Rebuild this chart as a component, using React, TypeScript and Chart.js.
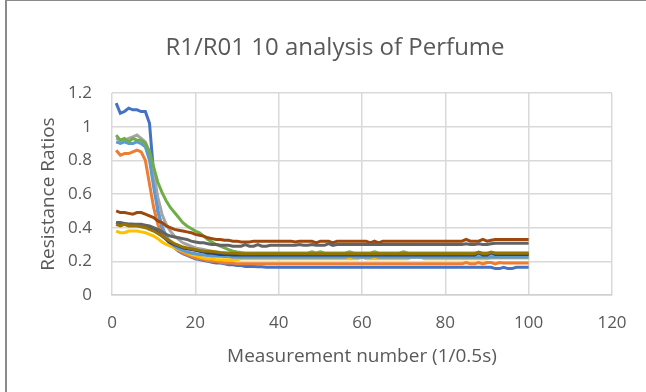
import React, { useEffect, useRef } from "react";
import { Chart, registerables } from "chart.js";

Chart.register(...registerables);

const TITLE = "R1/R01 10 analysis of Perfume";
const X_TITLE = "Measurement number (1/0.5s)";
const Y_TITLE = "Resistance Ratios";

const X_MIN = 0;
const X_MAX = 120;
const X_STEP = 20;
const Y_MIN = 0;
const Y_MAX = 1.2;
const Y_STEP = 0.2;

// Measurement numbers 1..100
const measurement: number[] = [
  1, 2, 3, 4, 5, 6, 7, 8, 9, 10,
  11, 12, 13, 14, 15, 16, 17, 18, 19, 20,
  21, 22, 23, 24, 25, 26, 27, 28, 29, 30,
  31, 32, 33, 34, 35, 36, 37, 38, 39, 40,
  41, 42, 43, 44, 45, 46, 47, 48, 49, 50,
  51, 52, 53, 54, 55, 56, 57, 58, 59, 60,
  61, 62, 63, 64, 65, 66, 67, 68, 69, 70,
  71, 72, 73, 74, 75, 76, 77, 78, 79, 80,
  81, 82, 83, 84, 85, 86, 87, 88, 89, 90,
  91, 92, 93, 94, 95, 96, 97, 98, 99, 100,
];

const s1: number[] = [
  1.14, 1.08, 1.09, 1.11, 1.10, 1.10, 1.09, 1.09, 1.02, 0.72,
  0.50, 0.40, 0.34, 0.30, 0.28, 0.26, 0.245, 0.235, 0.225, 0.215,
  0.21, 0.205, 0.20, 0.195, 0.19, 0.19, 0.185, 0.18, 0.18, 0.175,
  0.175, 0.17, 0.17, 0.17, 0.168, 0.168, 0.165, 0.165, 0.165, 0.165,
  0.165, 0.165, 0.165, 0.165, 0.165, 0.165, 0.165, 0.165, 0.165, 0.165,
  0.165, 0.165, 0.165, 0.165, 0.165, 0.165, 0.165, 0.165, 0.165, 0.165,
  0.165, 0.165, 0.165, 0.165, 0.165, 0.165, 0.165, 0.165, 0.165, 0.165,
  0.165, 0.165, 0.165, 0.165, 0.165, 0.165, 0.165, 0.165, 0.165, 0.165,
  0.165, 0.165, 0.165, 0.165, 0.165, 0.165, 0.165, 0.165, 0.165, 0.165,
  0.165, 0.157, 0.157, 0.165, 0.157, 0.157, 0.165, 0.165, 0.165, 0.165,
];

const s2: number[] = [
  0.86, 0.83, 0.84, 0.84, 0.85, 0.86, 0.85, 0.80, 0.66, 0.52,
  0.42, 0.36, 0.33, 0.30, 0.28, 0.265, 0.25, 0.24, 0.23, 0.22,
  0.215, 0.21, 0.205, 0.20, 0.20, 0.195, 0.19, 0.19, 0.19, 0.185,
  0.185, 0.185, 0.185, 0.185, 0.185, 0.185, 0.185, 0.185, 0.185, 0.185,
  0.185, 0.185, 0.185, 0.185, 0.185, 0.185, 0.185, 0.185, 0.185, 0.185,
  0.185, 0.185, 0.185, 0.185, 0.185, 0.185, 0.185, 0.185, 0.185, 0.185,
  0.185, 0.185, 0.185, 0.185, 0.185, 0.185, 0.185, 0.185, 0.185, 0.185,
  0.185, 0.185, 0.185, 0.185, 0.185, 0.185, 0.185, 0.185, 0.185, 0.185,
  0.185, 0.185, 0.185, 0.185, 0.193, 0.185, 0.185, 0.193, 0.185, 0.193,
  0.193, 0.185, 0.193, 0.19, 0.19, 0.19, 0.19, 0.19, 0.19, 0.19,
];

const s3: number[] = [
  0.93, 0.92, 0.92, 0.93, 0.94, 0.95, 0.93, 0.91, 0.85, 0.72,
  0.58, 0.48, 0.42, 0.38, 0.35, 0.33, 0.31, 0.30, 0.29, 0.28,
  0.275, 0.27, 0.265, 0.26, 0.255, 0.25, 0.25, 0.245, 0.245, 0.24,
  0.24, 0.24, 0.238, 0.238, 0.235, 0.235, 0.235, 0.235, 0.235, 0.235,
  0.235, 0.235, 0.235, 0.235, 0.235, 0.235, 0.235, 0.235, 0.235, 0.235,
  0.235, 0.235, 0.235, 0.235, 0.235, 0.235, 0.235, 0.235, 0.235, 0.235,
  0.235, 0.235, 0.235, 0.235, 0.235, 0.235, 0.235, 0.235, 0.235, 0.235,
  0.235, 0.235, 0.235, 0.235, 0.235, 0.235, 0.235, 0.235, 0.235, 0.235,
  0.235, 0.235, 0.235, 0.235, 0.235, 0.235, 0.235, 0.235, 0.235, 0.235,
  0.235, 0.235, 0.235, 0.235, 0.235, 0.235, 0.235, 0.235, 0.235, 0.235,
];

const s4: number[] = [
  0.38, 0.37, 0.37, 0.38, 0.38, 0.38, 0.375, 0.37, 0.36, 0.35,
  0.335, 0.315, 0.30, 0.29, 0.28, 0.27, 0.26, 0.25, 0.24, 0.235,
  0.225, 0.22, 0.215, 0.215, 0.21, 0.21, 0.21, 0.21, 0.21, 0.21,
  0.215, 0.215, 0.215, 0.215, 0.215, 0.215, 0.215, 0.215, 0.215, 0.215,
  0.215, 0.215, 0.215, 0.215, 0.215, 0.215, 0.215, 0.215, 0.215, 0.215,
  0.215, 0.215, 0.215, 0.215, 0.215, 0.215, 0.215, 0.215, 0.215, 0.225,
  0.215, 0.215, 0.215, 0.215, 0.215, 0.215, 0.215, 0.215, 0.215, 0.215,
  0.215, 0.225, 0.225, 0.225, 0.215, 0.215, 0.215, 0.215, 0.215, 0.215,
  0.215, 0.215, 0.215, 0.215, 0.215, 0.215, 0.215, 0.215, 0.215, 0.215,
  0.22, 0.22, 0.22, 0.22, 0.22, 0.22, 0.22, 0.22, 0.22, 0.22,
];

const s5: number[] = [
  0.91, 0.90, 0.91, 0.90, 0.90, 0.91, 0.90, 0.88, 0.80, 0.64,
  0.50, 0.41, 0.35, 0.31, 0.29, 0.275, 0.265, 0.255, 0.25, 0.245,
  0.24, 0.238, 0.235, 0.232, 0.23, 0.23, 0.228, 0.228, 0.225, 0.225,
  0.225, 0.225, 0.225, 0.225, 0.225, 0.225, 0.225, 0.225, 0.225, 0.225,
  0.225, 0.225, 0.225, 0.225, 0.225, 0.225, 0.225, 0.225, 0.225, 0.225,
  0.225, 0.225, 0.225, 0.225, 0.225, 0.225, 0.23, 0.225, 0.225, 0.225,
  0.225, 0.225, 0.23, 0.225, 0.225, 0.225, 0.225, 0.225, 0.225, 0.225,
  0.225, 0.225, 0.225, 0.225, 0.225, 0.225, 0.225, 0.225, 0.225, 0.225,
  0.225, 0.225, 0.225, 0.225, 0.225, 0.225, 0.225, 0.225, 0.225, 0.225,
  0.225, 0.225, 0.225, 0.225, 0.225, 0.225, 0.225, 0.225, 0.225, 0.225,
];

const s6: number[] = [
  0.95, 0.92, 0.93, 0.91, 0.93, 0.92, 0.92, 0.90, 0.85, 0.76,
  0.67, 0.61, 0.56, 0.52, 0.49, 0.46, 0.43, 0.41, 0.395, 0.38,
  0.37, 0.35, 0.33, 0.315, 0.30, 0.29, 0.28, 0.27, 0.26, 0.255,
  0.252, 0.25, 0.25, 0.25, 0.25, 0.25, 0.25, 0.25, 0.25, 0.25,
  0.25, 0.25, 0.25, 0.25, 0.25, 0.25, 0.25, 0.257, 0.25, 0.257,
  0.25, 0.25, 0.25, 0.25, 0.25, 0.25, 0.257, 0.25, 0.25, 0.25,
  0.25, 0.25, 0.257, 0.25, 0.25, 0.25, 0.25, 0.25, 0.25, 0.257,
  0.25, 0.25, 0.25, 0.25, 0.25, 0.25, 0.25, 0.25, 0.25, 0.25,
  0.25, 0.25, 0.25, 0.25, 0.25, 0.25, 0.25, 0.25, 0.25, 0.25,
  0.25, 0.25, 0.25, 0.25, 0.25, 0.25, 0.25, 0.25, 0.25, 0.25,
];

const s7: number[] = [
  0.43, 0.42, 0.42, 0.42, 0.42, 0.415, 0.41, 0.41, 0.40, 0.39,
  0.37, 0.35, 0.33, 0.31, 0.30, 0.29, 0.28, 0.275, 0.27, 0.265,
  0.26, 0.255, 0.25, 0.248, 0.245, 0.24, 0.24, 0.24, 0.238, 0.238,
  0.238, 0.238, 0.238, 0.238, 0.238, 0.238, 0.238, 0.238, 0.238, 0.238,
  0.238, 0.238, 0.238, 0.238, 0.238, 0.238, 0.238, 0.238, 0.238, 0.238,
  0.238, 0.238, 0.238, 0.238, 0.238, 0.238, 0.238, 0.238, 0.238, 0.238,
  0.238, 0.238, 0.238, 0.238, 0.238, 0.238, 0.238, 0.238, 0.238, 0.238,
  0.238, 0.238, 0.238, 0.238, 0.238, 0.238, 0.238, 0.238, 0.238, 0.238,
  0.238, 0.238, 0.238, 0.238, 0.238, 0.238, 0.238, 0.252, 0.238, 0.238,
  0.252, 0.24, 0.24, 0.24, 0.24, 0.24, 0.24, 0.24, 0.24, 0.24,
];

const s8: number[] = [
  0.50, 0.49, 0.49, 0.485, 0.48, 0.49, 0.49, 0.48, 0.47, 0.46,
  0.44, 0.43, 0.41, 0.40, 0.39, 0.385, 0.38, 0.375, 0.37, 0.36,
  0.355, 0.35, 0.34, 0.335, 0.33, 0.33, 0.325, 0.325, 0.32, 0.32,
  0.315, 0.315, 0.315, 0.32, 0.32, 0.32, 0.32, 0.32, 0.32, 0.32,
  0.32, 0.32, 0.32, 0.315, 0.32, 0.32, 0.32, 0.32, 0.31, 0.32,
  0.32, 0.32, 0.31, 0.32, 0.32, 0.32, 0.32, 0.32, 0.32, 0.32,
  0.32, 0.31, 0.32, 0.31, 0.32, 0.32, 0.32, 0.32, 0.32, 0.32,
  0.32, 0.32, 0.32, 0.32, 0.32, 0.32, 0.32, 0.32, 0.32, 0.32,
  0.32, 0.32, 0.32, 0.32, 0.33, 0.32, 0.32, 0.32, 0.33, 0.32,
  0.325, 0.33, 0.33, 0.33, 0.33, 0.33, 0.33, 0.33, 0.33, 0.33,
];

const s9: number[] = [
  0.43, 0.43, 0.425, 0.42, 0.42, 0.42, 0.42, 0.415, 0.41, 0.40,
  0.39, 0.375, 0.36, 0.35, 0.345, 0.34, 0.335, 0.33, 0.32, 0.315,
  0.31, 0.31, 0.305, 0.30, 0.30, 0.295, 0.295, 0.295, 0.29, 0.29,
  0.29, 0.30, 0.29, 0.29, 0.30, 0.29, 0.29, 0.295, 0.295, 0.295,
  0.295, 0.295, 0.295, 0.295, 0.30, 0.295, 0.295, 0.30, 0.295, 0.295,
  0.295, 0.305, 0.295, 0.30, 0.30, 0.30, 0.30, 0.30, 0.30, 0.30,
  0.30, 0.30, 0.30, 0.30, 0.30, 0.30, 0.30, 0.30, 0.30, 0.30,
  0.30, 0.30, 0.30, 0.30, 0.30, 0.30, 0.30, 0.30, 0.30, 0.30,
  0.30, 0.30, 0.30, 0.30, 0.305, 0.30, 0.30, 0.305, 0.30, 0.30,
  0.305, 0.308, 0.308, 0.308, 0.308, 0.308, 0.308, 0.308, 0.308, 0.308,
];

const s10: number[] = [
  0.42, 0.41, 0.42, 0.41, 0.41, 0.41, 0.405, 0.40, 0.39, 0.38,
  0.365, 0.35, 0.335, 0.32, 0.305, 0.295, 0.285, 0.28, 0.275, 0.27,
  0.265, 0.262, 0.26, 0.258, 0.255, 0.252, 0.25, 0.25, 0.248, 0.248,
  0.245, 0.245, 0.245, 0.245, 0.245, 0.245, 0.245, 0.245, 0.245, 0.245,
  0.245, 0.245, 0.245, 0.245, 0.245, 0.245, 0.245, 0.245, 0.245, 0.245,
  0.245, 0.245, 0.245, 0.245, 0.245, 0.245, 0.245, 0.245, 0.245, 0.245,
  0.245, 0.245, 0.245, 0.245, 0.245, 0.245, 0.245, 0.245, 0.245, 0.245,
  0.245, 0.245, 0.245, 0.245, 0.245, 0.245, 0.245, 0.245, 0.245, 0.245,
  0.245, 0.245, 0.245, 0.245, 0.245, 0.245, 0.245, 0.255, 0.245, 0.245,
  0.255, 0.248, 0.248, 0.248, 0.248, 0.248, 0.248, 0.248, 0.248, 0.248,
];

const SERIES = [s1, s2, s3, s4, s5, s6, s7, s8, s9, s10];
const SERIES_NAMES = ["1", "2", "3", "4", "5", "6", "7", "8", "9", "10"];
const SERIES_COLORS = [
  "#4472C4",
  "#ED7D31",
  "#A5A5A5",
  "#FFC000",
  "#5B9BD5",
  "#70AD47",
  "#264478",
  "#9E480E",
  "#636363",
  "#997300",
];

const FONT = '"Open Sans", "Noto Sans", sans-serif';
const TEXT_COLOR = "#595959";
const GRID_COLOR = "#D9D9D9";

const titlePlugin = {
  id: "chartTitleText",
  afterDraw(chart: any) {
    const ctx = chart.ctx;
    ctx.save();
    ctx.font = `24px ${FONT}`;
    ctx.fillStyle = TEXT_COLOR;
    ctx.textAlign = "center";
    ctx.textBaseline = "middle";
    ctx.fillText(TITLE, 335, 48);
    ctx.restore();
  },
};

export default function App() {
  const canvasRef = useRef<HTMLCanvasElement | null>(null);

  useEffect(() => {
    if (!canvasRef.current) return;
    const datasets = SERIES.map((values, i) => ({
      label: SERIES_NAMES[i],
      data: values.map((v, j) => ({ x: measurement[j], y: v })),
      borderColor: SERIES_COLORS[i],
      backgroundColor: SERIES_COLORS[i],
      borderWidth: 3,
      pointRadius: 0,
      tension: 0,
      fill: false,
      order: SERIES.length - 1 - i,
    }));

    const chart = new Chart(canvasRef.current, {
      type: "line",
      data: { datasets },
      options: {
        animation: false,
        responsive: false,
        maintainAspectRatio: false,
        layout: { padding: { top: 93, right: 34, bottom: 0, left: 0 } },
        plugins: {
          legend: { display: false },
          tooltip: { enabled: false },
          title: { display: false },
        },
        scales: {
          x: {
            type: "linear",
            min: X_MIN,
            max: X_MAX,
            ticks: {
              stepSize: X_STEP,
              color: TEXT_COLOR,
              font: { family: FONT, size: 17 },
              padding: 18,
            },
            grid: { color: GRID_COLOR, lineWidth: 1.5, drawTicks: false },
            border: { color: "#D0D0D0", width: 1.5 },
            title: {
              display: true,
              text: X_TITLE,
              color: TEXT_COLOR,
              font: { family: FONT, size: 19 },
              padding: { top: 0, bottom: 24 },
            },
            afterFit: (scale: any) => {
              scale.height = 97;
            },
          },
          y: {
            type: "linear",
            min: Y_MIN,
            max: Y_MAX,
            ticks: {
              stepSize: Y_STEP,
              color: TEXT_COLOR,
              font: { family: FONT, size: 17 },
              padding: 20,
              callback: (v: any) => String(Math.round(Number(v) * 10) / 10),
            },
            grid: { color: GRID_COLOR, lineWidth: 1.5, drawTicks: false },
            border: { display: false },
            title: {
              display: true,
              text: Y_TITLE,
              color: TEXT_COLOR,
              font: { family: FONT, size: 19 },
              padding: { top: 37, bottom: 0 },
            },
            afterFit: (scale: any) => {
              scale.width = 112;
            },
          },
        },
      },
      plugins: [titlePlugin],
    });
    return () => chart.destroy();
  }, []);

  return (
    <div
      style={{
        position: "absolute",
        left: 0,
        top: 0,
        width: 646,
        height: 392,
        overflow: "hidden",
        background: "#ffffff",
      }}
    >
      <canvas
        ref={canvasRef}
        width={646}
        height={392}
        style={{ display: "block", width: 646, height: 392 }}
      />
      <div
        style={{
          position: "absolute",
          left: 5,
          top: 0,
          width: 641,
          height: 392,
          borderLeft: "2px solid #8a8a8a",
          borderTop: "1px solid #8a8a8a",
          boxSizing: "border-box",
          pointerEvents: "none",
        }}
      />
    </div>
  );
}
